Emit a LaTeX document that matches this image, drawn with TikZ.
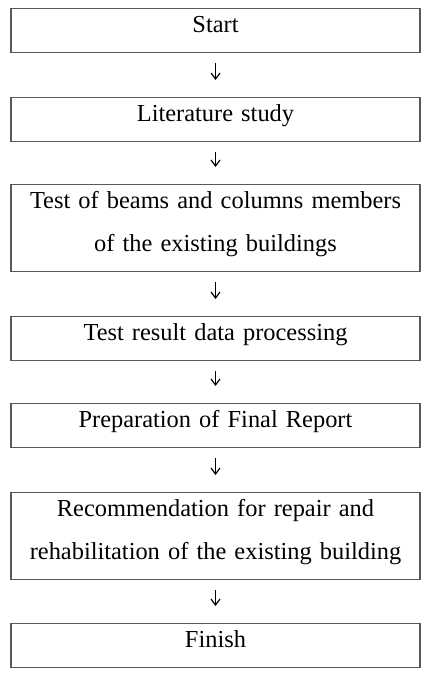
\documentclass[tikz,border=0pt]{standalone}
\usepackage{fontspec}
\setmainfont{Liberation Serif}
\definecolor{edge}{HTML}{595959}
\usetikzlibrary{positioning, arrows.meta}

\begin{document}
\begin{tikzpicture}[
  x=0.5pt, y=-0.5pt,
  box/.style={draw=edge, line width=0.7pt, fill=white,
              text width=200pt, inner xsep=2.25pt, inner ysep=0pt,
              align=center, anchor=north, text height=12pt, text depth=10pt,
              font=\fontsize{12.2}{21.5}\selectfont},
  tallbox/.style={box, text depth=31.5pt},
  flow/.style={-{Straight Barb[length=3pt, width=4.5pt]}, line width=0.6pt,
               shorten <=5pt, shorten >=8.5pt},
]
\useasboundingbox (0,0) rectangle (429,674);

\node[box] (start) at (215.5,8) {Start};
\node[box] (lit) at (215.5,97) {Literature study};
\node[tallbox] (test) at (215.5,184) {Test of beams and columns members\\of the existing buildings};
\node[box] (data) at (215.5,316) {Test result data processing};
\node[box] (report) at (215.5,403) {Preparation of Final Report};
\node[tallbox] (rec) at (215.5,492) {Recommendation for repair and\\rehabilitation of the existing building};
\node[box] (finish) at (215.5,623) {Finish};

\draw[flow] (start) -- (lit);
\draw[flow] (lit) -- (test);
\draw[flow] (test) -- (data);
\draw[flow] (data) -- (report);
\draw[flow] (report) -- (rec);
\draw[flow] (rec) -- (finish);
\end{tikzpicture}
\end{document}
